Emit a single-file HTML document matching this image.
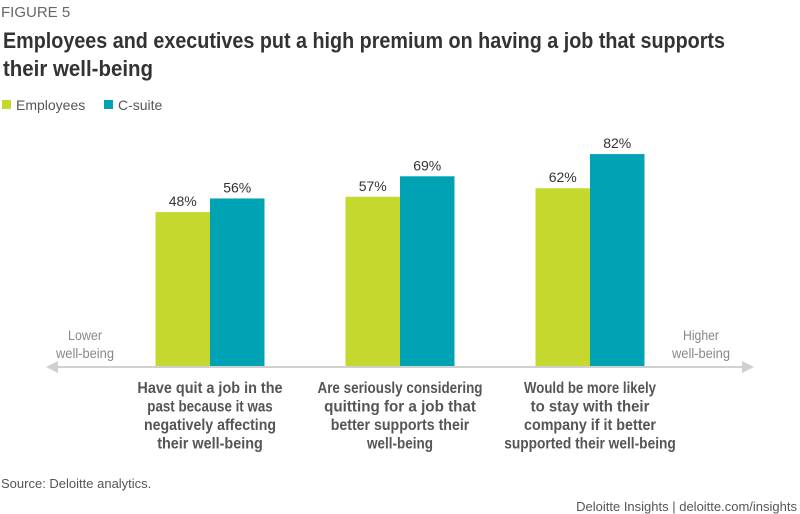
<!DOCTYPE html>
<html><head><meta charset="utf-8"><style>
html,body{margin:0;padding:0;background:#fff;}
svg{display:block;font-family:"Liberation Sans",sans-serif;}
</style></head><body>
<svg id="chart" width="800" height="514" viewBox="0 0 800 514">
<text x="1" y="17" font-size="15" fill="#666">FIGURE 5</text>
<text x="3" y="48" font-size="22" font-weight="bold" fill="#333" textLength="722" lengthAdjust="spacingAndGlyphs">Employees and executives put a high premium on having a job that supports</text>
<text x="3" y="76" font-size="22" font-weight="bold" fill="#333" textLength="150" lengthAdjust="spacingAndGlyphs">their well-being</text>
<g>
<rect x="2" y="100" width="9" height="9" fill="#c4d82e"/>
<text x="16" y="110" font-size="14" fill="#555">Employees</text>
<rect x="104" y="100" width="9" height="9" fill="#00a3b4"/>
<text x="118" y="110" font-size="14" fill="#555">C-suite</text>
</g>
<g>
<line x1="56" y1="367" x2="744" y2="367" stroke="#d0d0d0" stroke-width="2"/>
<polygon points="46,367 58,361 58,373" fill="#d0d0d0"/>
<polygon points="754,367 742,361 742,373" fill="#d0d0d0"/>
</g>
<g font-size="14" fill="#888" text-anchor="middle">
<text x="85" y="340" textLength="34" lengthAdjust="spacingAndGlyphs">Lower</text>
<text x="85" y="358" textLength="58" lengthAdjust="spacingAndGlyphs">well-being</text>
<text x="701" y="340" textLength="36" lengthAdjust="spacingAndGlyphs">Higher</text>
<text x="701" y="358" textLength="58" lengthAdjust="spacingAndGlyphs">well-being</text>
</g>
<g id="bars"></g>
<g id="cats"></g>
<text x="1" y="488" font-size="13" fill="#555">Source: Deloitte analytics.</text>
<text x="797" y="511" font-size="13" fill="#555" text-anchor="end">Deloitte Insights | deloitte.com/insights</text>
</svg>
<script>
const categories = [
  ["Have quit a job in the","past because it was","negatively affecting","their well-being"],
  ["Are seriously considering","quitting for a job that","better supports their","well-being"],
  ["Would be more likely","to stay with their","company if it better","supported their well-being"]
];
const employees = [48, 57, 62];
const csuite = [56, 69, 82];
const valueLabels = ["%"];

const NS = "http://www.w3.org/2000/svg";
const baseY = 366;
function y(v){ return 294 - v * 1.706; }
function groupCenter(i){ return 210 + i * 190; }
const barW = 54.5;
const bars = document.getElementById('bars');
const cats = document.getElementById('cats');
function mk(tag, attrs, parent){
  const e = document.createElementNS(NS, tag);
  for (const k in attrs) e.setAttribute(k, attrs[k]);
  parent.appendChild(e);
  return e;
}
const series = [[employees, "#c4d82e", "employees", -1],[csuite, "#00a3b4", "csuite", 0]];
categories.forEach((cat, i) => {
  const cx = groupCenter(i);
  series.forEach(([vals, color, name, off]) => {
    const x = cx + off * barW;
    const top = y(vals[i]);
    const r = mk('rect', {x: x, y: top, width: barW, height: baseY - top, fill: color}, bars);
    
    
    const t = mk('text', {x: x + barW/2, y: top - 6, 'font-size': 14, fill: '#333', 'text-anchor': 'middle'}, bars);
    t.textContent = vals[i] + valueLabels[0];
    
    
  });
  cat.forEach((line, j) => {
    const t = mk('text', {x: cx, y: 393 + j * 18.5, 'font-size': 16, 'font-weight': 'bold', fill: '#555', 'text-anchor': 'middle', 'textLength': line.length * 6.6, 'lengthAdjust': 'spacingAndGlyphs'}, cats);
    t.textContent = line;
    
    
  });
});
</script>
</body></html>
